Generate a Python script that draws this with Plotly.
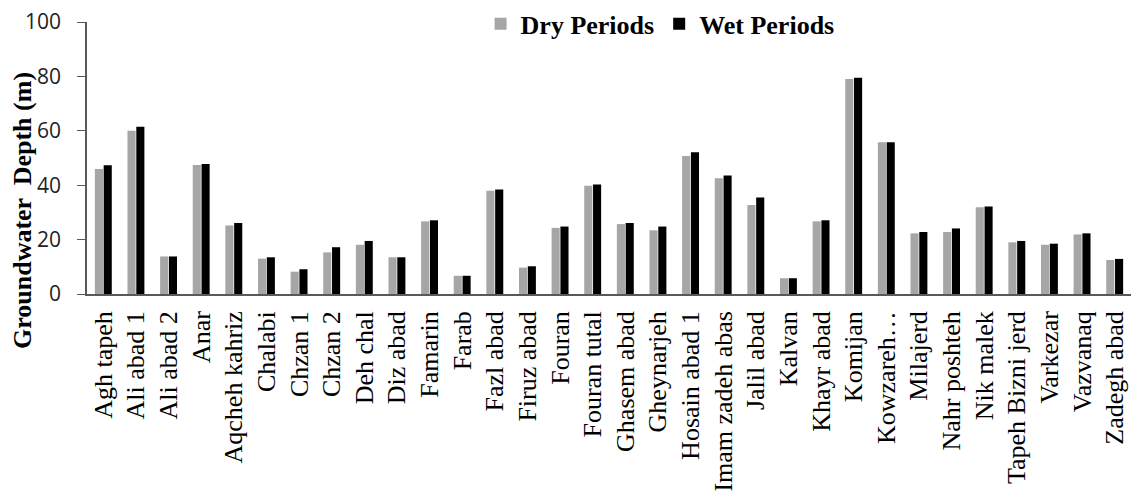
import plotly.graph_objects as go

wells = ["Agh tapeh", "Ali abad 1", "Ali abad 2", "Anar", "Aqcheh kahriz", "Chalabi",
         "Chzan 1", "Chzan 2", "Deh chal", "Diz abad", "Famarin", "Farab", "Fazl abad",
         "Firuz abad", "Fouran", "Fouran tutal", "Ghasem abad", "Gheynarjeh",
         "Hosain abad 1", "Imam zadeh abas", "Jalil abad", "Kalvan", "Khayr abad",
         "Komijan", "Kowzareh…", "Milajerd", "Nahr poshteh", "Nik malek",
         "Tapeh Bizni jerd", "Varkezar", "Vazvanaq", "Zadegh abad"]

dry = [46.0, 60.0, 13.8, 47.4, 25.2, 13.0, 8.2, 15.3, 18.1, 13.5, 26.7, 6.7, 38.0,
       9.7, 24.3, 39.8, 25.7, 23.4, 50.7, 42.6, 32.7, 5.8, 26.7, 79.0, 55.8, 22.3,
       22.8, 31.9, 19.0, 18.1, 21.9, 12.5]
wet = [47.3, 61.5, 13.8, 47.8, 26.1, 13.5, 9.1, 17.2, 19.5, 13.5, 27.1, 6.7, 38.4,
       10.2, 24.8, 40.3, 26.1, 24.8, 52.1, 43.6, 35.5, 5.8, 27.1, 79.5, 55.8, 22.8,
       24.1, 32.2, 19.5, 18.5, 22.3, 12.9]

y_ticks = [0, 20, 40, 60, 80, 100]
y_title = "Groundwater  Depth (m)"

fig = go.Figure()
fig.add_trace(go.Bar(x=wells, y=dry, name="Dry Periods", marker_color="#a6a6a6",
                     marker_line_width=0))
fig.add_trace(go.Bar(x=wells, y=wet, name="Wet Periods", marker_color="#000000",
                     marker_line_width=0))

fig.update_layout(
    width=1131, height=491,
    margin=dict(l=87, r=0, t=22, b=197, pad=0),
    paper_bgcolor="white", plot_bgcolor="white",
    barmode="group", bargap=0.46, bargroupgap=0.08,
    showlegend=True,
    legend=dict(orientation="h", x=0.377, y=1.08, xanchor="left", yanchor="top",
                font=dict(family="Liberation Serif", size=26, color="black", weight="bold"),
                traceorder="normal", itemwidth=30, tracegroupgap=0,
                bgcolor="rgba(0,0,0,0)"),
    xaxis=dict(type="category", range=[-0.5, len(wells) - 0.5], tickangle=-90,
               tickfont=dict(family="Liberation Serif", size=26, color="black"),
               showline=True, linecolor="#595959", linewidth=1.5,
               ticks="outside", ticklen=5, tickcolor="rgba(0,0,0,0)",
               showgrid=False, automargin=False),
    yaxis=dict(range=[0, 100], tickvals=y_ticks, ticks="outside", ticklen=8,
               tickcolor="#595959", showline=True, linecolor="#595959", linewidth=1.5,
               showgrid=False, zeroline=False, ticklabelstandoff=12,
               tickfont=dict(family="Open Sans", size=21, color="#222222"),
               automargin=False),
    annotations=[dict(text=y_title, textangle=-90, showarrow=False,
                      xref="paper", yref="paper", x=0, y=0.305,
                      xanchor="center", yanchor="middle", xshift=-65,
                      font=dict(family="Liberation Serif", size=26, color="black",
                                weight="bold"))],
)

fig.write_html("out.html", config={"displayModeBar": False},
               post_script="document.body.style.margin='0';")
